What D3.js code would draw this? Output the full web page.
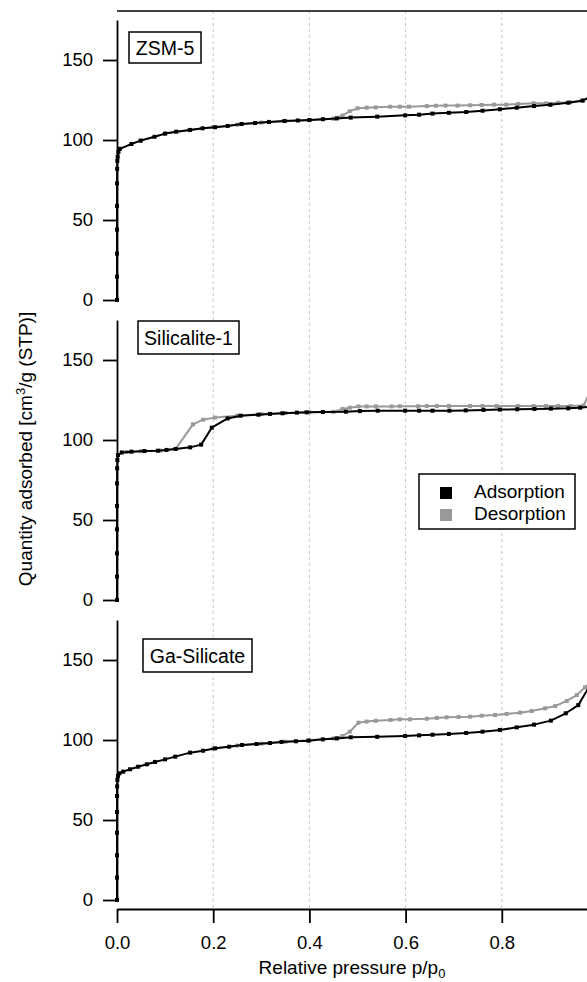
<!DOCTYPE html>
<html>
<head>
<meta charset="utf-8">
<script src="https://cdn.jsdelivr.net/npm/d3@7"></script>
<style>
  body { margin: 0; background: #fff; }
  svg { display: block; font-family: "Liberation Sans", Arial, sans-serif; }
</style>
</head>
<body>
<div id="chart"></div>
<script>
// isotherms: [relative pressure, quantity adsorbed]
const zsm5Adsorption = [
  [0, 0], [0.00001, 14.6], [0.00002, 29], [0.00003, 44], [0.00005, 58.8], [0.0001, 72.9],
  [0.0003, 82], [0.0007, 87], [0.0015, 89.6], [0.003, 92.5], [0.006, 94.5], [0.03, 97.5],
  [0.049, 99.6], [0.078, 102], [0.10, 104], [0.123, 105.2], [0.152, 106.3], [0.178, 107.3],
  [0.204, 108], [0.23, 108.8], [0.259, 110], [0.287, 110.6], [0.316, 111.3], [0.348, 111.9],
  [0.376, 112.2], [0.40, 112.5], [0.428, 113], [0.457, 113.5], [0.486, 114], [0.541, 114.6],
  [0.599, 115.4], [0.628, 115.8], [0.656, 116.5], [0.69, 117], [0.726, 117.5], [0.76, 118.3],
  [0.796, 119.2], [0.831, 120.2], [0.867, 121.2], [0.901, 122], [0.938, 123.3], [0.968, 124.6],
  [0.99, 128]
];
const zsm5Desorption = [
  [0.99, 127], [0.968, 124.8], [0.943, 123.6], [0.917, 123.3], [0.892, 122.9], [0.866, 122.9],
  [0.834, 122.5], [0.809, 122.1], [0.784, 122.1], [0.758, 121.9], [0.734, 121.7], [0.708, 121.5],
  [0.683, 121.5], [0.663, 121.4], [0.644, 121.2], [0.607, 120.8], [0.588, 120.8], [0.568, 120.8],
  [0.538, 120.4], [0.519, 120.2], [0.50, 119.8], [0.484, 118], [0.469, 115.3], [0.45, 113.3],
  [0.40, 112.4], [0.35, 111.8], [0.30, 110.9], [0.25, 109.6], [0.20, 108], [0.15, 106.2],
  [0.10, 104], [0.05, 99.7]
];

const silicaliteAdsorption = [
  [0, 0], [0.00001, 14.6], [0.00002, 29.2], [0.00003, 44.2], [0.00005, 58.8], [0.0001, 72.9],
  [0.0003, 82.3], [0.0008, 87.5], [0.002, 90.6], [0.01, 92.2], [0.03, 92.7], [0.057, 93.1],
  [0.085, 93.3], [0.103, 93.8], [0.122, 94.4], [0.152, 95.4], [0.175, 97.1], [0.197, 107.7],
  [0.23, 113.5], [0.257, 115.2], [0.294, 115.8], [0.318, 116.3], [0.344, 116.7], [0.374, 117.1],
  [0.394, 117.3], [0.428, 117.5], [0.476, 117.7], [0.505, 118.1], [0.542, 118.3], [0.599, 118.3],
  [0.628, 118.3], [0.656, 118.3], [0.691, 118.3], [0.725, 118.5], [0.762, 118.8], [0.796, 119],
  [0.832, 119.2], [0.868, 119.4], [0.902, 119.6], [0.938, 119.8], [0.963, 120.2], [0.99, 121]
];
const silicaliteDesorption = [
  [0.995, 138], [0.97, 121.5], [0.943, 121.2], [0.917, 121.2], [0.892, 121.2], [0.866, 121.2],
  [0.834, 121.2], [0.789, 121.2], [0.76, 121.2], [0.734, 121.2], [0.69, 121.2], [0.665, 121.2],
  [0.644, 121.2], [0.626, 121.1], [0.588, 121.1], [0.571, 121], [0.538, 121], [0.519, 121],
  [0.502, 121], [0.484, 120.2], [0.469, 119.4], [0.45, 117.6], [0.40, 117.3], [0.35, 116.9],
  [0.30, 116.2], [0.25, 115.2], [0.204, 114], [0.179, 112.7], [0.158, 109.8], [0.122, 94.5],
  [0.09, 93.4], [0.05, 93], [0.02, 92.5]
];

const gaSilicateAdsorption = [
  [0, 0], [0.00001, 14], [0.00002, 28], [0.00003, 42], [0.00005, 55], [0.0001, 65],
  [0.0003, 71], [0.0008, 75], [0.002, 77.5], [0.005, 79.2], [0.013, 80.2], [0.027, 81.7],
  [0.044, 83.3], [0.062, 84.8], [0.079, 86.3], [0.10, 87.9], [0.121, 89.6], [0.152, 92.1],
  [0.179, 93.3], [0.204, 94.8], [0.233, 95.8], [0.26, 96.9], [0.29, 97.5], [0.318, 98.1],
  [0.342, 98.8], [0.372, 99.2], [0.398, 99.6], [0.428, 100.4], [0.457, 101], [0.486, 101.7],
  [0.541, 102], [0.599, 102.5], [0.628, 102.9], [0.656, 103.3], [0.69, 103.8], [0.726, 104.4],
  [0.76, 105.2], [0.796, 106.3], [0.831, 107.9], [0.867, 109.6], [0.902, 112.1], [0.933, 116.7],
  [0.959, 121.8], [0.985, 135]
];
const gaSilicateDesorption = [
  [0.99, 138], [0.973, 132.9], [0.956, 128.1], [0.935, 124.4], [0.911, 121.2], [0.89, 119.8],
  [0.862, 118.1], [0.838, 117.1], [0.81, 116.3], [0.786, 115.6], [0.758, 115.2], [0.734, 114.6],
  [0.71, 114.4], [0.685, 114.2], [0.665, 113.8], [0.644, 113.3], [0.609, 112.9], [0.588, 112.9],
  [0.569, 112.5], [0.538, 112], [0.519, 111.5], [0.502, 110.8], [0.484, 105.2], [0.469, 102.5],
  [0.45, 101], [0.40, 99.8], [0.35, 98.9], [0.30, 97.7], [0.25, 96.5], [0.20, 94.6]
];

const sampleNames = ['ZSM-5', 'Silicalite-1', 'Ga-Silicate'];
const seriesNames = ['Adsorption', 'Desorption'];
const gridValues = [0.2, 0.4, 0.6, 0.8, 1.0];
const xTicks = [0, 0.2, 0.4, 0.6, 0.8];
const yTicks = [0, 50, 100, 150];

const panels = [
  { name: sampleNames[0], ads: zsm5Adsorption, des: zsm5Desorption },
  { name: sampleNames[1], ads: silicaliteAdsorption, des: silicaliteDesorption },
  { name: sampleNames[2], ads: gaSilicateAdsorption, des: gaSilicateDesorption },
];

// label boxes, placed like the original
const labelBoxes = [
  { x: 129, y: 32, w: 72, h: 31 },
  { x: 138, y: 321, w: 101, h: 33 },
  { x: 143, y: 639, w: 109, h: 33 },
];

const COLORS = {
  ads: '#000000',
  des: '#999999',
  grid: '#c8c8c8',
};

const width = 587;
const height = 982;
const left = 117;
const panelHeight = 300;
const axisY = 909;
const TICK_FONT = 18.5;
const LABEL_FONT = 19;

function translate(x, y) {
  return "translate(" + x + "," + y + ")";
}

const svg = d3.select('#chart')
  .append('svg')
    .attr('width', width)
    .attr('height', height)

const xScale = d3.scaleLinear()
  .domain([0, 1])
  .range([left, 598]);

// dashed vertical grid
svg.append('g')
  .selectAll('line')
  .data(gridValues)
  .enter()
  .append('line')
    .attr('x1', d => xScale(d))
    .attr('x2', d => xScale(d))
    .attr('y1', 11)
    .attr('y2', axisY)
    .attr('stroke', COLORS.grid)
    .attr('stroke-width', 1)
    .attr('stroke-dasharray', '3,3')

// top frame line
svg.append('line')
    .attr('x1', left)
    .attr('x2', 598)
    .attr('y1', 11)
    .attr('y2', 11)
    .attr('stroke', '#000')
    .attr('stroke-width', 1.6)

function styleAxis(g) {
  g.selectAll('path, line')
      .attr('stroke', '#000')
      .attr('stroke-width', 1.8)
  g.selectAll('text')
      .attr('font-size', TICK_FONT)
      .attr('fill', '#000')
      .attr('font-family', '"Liberation Sans", Arial, sans-serif')
}

panels.forEach((panel, i) => {
  const bottom = panelHeight * (i + 1);
  const top = bottom - 280;

  const yScale = d3.scaleLinear()
    .domain([0, 175])
    .range([bottom, top]);

  const yAxis = d3.axisLeft(yScale)
    .tickValues(yTicks)
    .tickFormat(d3.format('d'))
    .tickSize(14)
    .tickSizeOuter(0)
    .tickPadding(10);

  svg.append('g')
      .attr('transform', translate(left, 0))
      .call(yAxis)
      .call(styleAxis)

  const line = d3.line()
    .x(d => xScale(d[0]))
    .y(d => yScale(d[1]));

  const g = svg.append('g').attr('class', 'panel');

  [['des', COLORS.des], ['ads', COLORS.ads]].forEach(([key, color]) => {
    g.append('path')
        .datum(panel[key])
        .attr('fill', 'none')
        .attr('stroke', color)
        .attr('stroke-width', 2)
        .attr('stroke-linejoin', 'round')
        .attr('d', line)

    g.selectAll('.marker-' + key)
        .data(panel[key])
      .enter()
      .append('rect')
        .attr('class', 'marker-' + key)
        .attr('x', d => xScale(d[0]) - 2)
        .attr('y', d => yScale(d[1]) - 2)
        .attr('width', 4)
        .attr('height', 4)
        .attr('fill', color)
  });

  const box = labelBoxes[i];
  svg.append('rect')
      .attr('x', box.x)
      .attr('y', box.y)
      .attr('width', box.w)
      .attr('height', box.h)
      .attr('fill', '#fff')
      .attr('stroke', '#000')
      .attr('stroke-width', 1.5)

  svg.append('text')
      .attr('x', box.x + box.w / 2)
      .attr('y', box.y + box.h / 2 + 7)
      .attr('text-anchor', 'middle')
      .attr('font-size', 19.5)
      .text(panel.name)
});

// x axis
const xAxis = d3.axisBottom(xScale)
  .tickValues(xTicks)
  .tickFormat(d3.format('.1f'))
  .tickSize(14)
  .tickSizeOuter(0)
  .tickPadding(13);

svg.append('g')
    .attr('transform', translate(0, axisY))
    .call(xAxis)
    .call(styleAxis)

// x label
const xLabel = svg.append('text')
    .attr('x', 352)
    .attr('y', 974)
    .attr('text-anchor', 'middle')
    .attr('font-size', LABEL_FONT)
xLabel.append('tspan').text('Relative pressure p/p')
xLabel.append('tspan')
    .attr('dy', 4)
    .attr('font-size', 13)
    .text('0')

// y label
const yLabel = svg.append('text')
    .attr('transform', 'rotate(-90)')
    .attr('x', -449)
    .attr('y', 32)
    .attr('text-anchor', 'middle')
    .attr('font-size', LABEL_FONT)
yLabel.append('tspan').text('Quantity adsorbed [cm')
yLabel.append('tspan')
    .attr('dy', -7)
    .attr('font-size', 13)
    .text('3')
yLabel.append('tspan')
    .attr('dy', 7)
    .text('/g (STP)]')

// legend
const legend = svg.append('g')
    .attr('class', 'legend')
    .attr('transform', translate(419, 474))

legend.append('rect')
    .attr('width', 156)
    .attr('height', 55)
    .attr('fill', '#fff')
    .attr('stroke', '#000')
    .attr('stroke-width', 1.5)

const item = legend.selectAll('.legend__item')
    .data(seriesNames)
  .enter()
  .append('g')
    .attr('class', 'legend__item')
    .attr('transform', (d, i) => translate(0, i * 22))

item.append('rect')
    .attr('x', 21)
    .attr('y', 13)
    .attr('width', 12)
    .attr('height', 12)
    .attr('fill', (d, i) => i === 0 ? COLORS.ads : COLORS.des)

item.append('text')
    .attr('x', 55)
    .attr('y', 24)
    .attr('font-size', LABEL_FONT)
    .text(d => d)
</script>
</body>
</html>
